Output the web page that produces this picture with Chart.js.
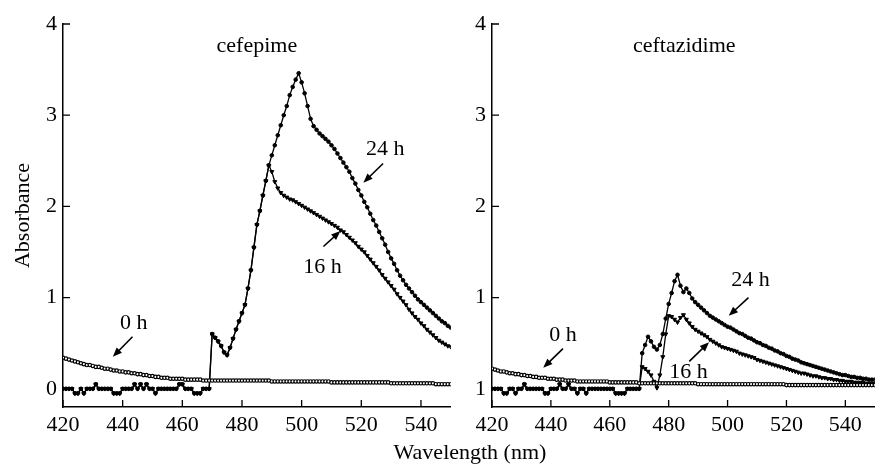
<!DOCTYPE html>
<html>
<head>
<meta charset="utf-8">
<script src="https://cdn.jsdelivr.net/npm/chart.js@4.4.1/dist/chart.umd.min.js"></script>
<style>
  body { margin: 0; background: #fff; }
  #wrap { position: relative; width: 880px; height: 465px; font-family: "Liberation Serif", serif; }
  #leftBox { position: absolute; left: 0; top: 0; }
  #rightBox { position: absolute; left: 430px; top: 0; }
  #xTitle { position: absolute; left: 0; width: 940px; top: 438px; line-height: 28px; text-align: center; font-size: 22px; color: #000; }
</style>
</head>
<body>
<div id="wrap">
  <canvas id="leftBox" width="456" height="465"></canvas>
  <canvas id="rightBox" width="450" height="465"></canvas>
  <div id="xTitle">Wavelength (nm)</div>
</div>
<script>
// wavelength grid (nm)
const wavelengths = [
  420, 421, 422, 423, 424, 425, 426, 427, 428, 429,
  430, 431, 432, 433, 434, 435, 436, 437, 438, 439,
  440, 441, 442, 443, 444, 445, 446, 447, 448, 449,
  450, 451, 452, 453, 454, 455, 456, 457, 458, 459,
  460, 461, 462, 463, 464, 465, 466, 467, 468, 469,
  470, 471, 472, 473, 474, 475, 476, 477, 478, 479,
  480, 481, 482, 483, 484, 485, 486, 487, 488, 489,
  490, 491, 492, 493, 494, 495, 496, 497, 498, 499,
  500, 501, 502, 503, 504, 505, 506, 507, 508, 509,
  510, 511, 512, 513, 514, 515, 516, 517, 518, 519,
  520, 521, 522, 523, 524, 525, 526, 527, 528, 529,
  530, 531, 532, 533, 534, 535, 536, 537, 538, 539,
  540, 541, 542, 543, 544, 545, 546, 547, 548, 549,
  550
];

const xTicks = [420, 440, 460, 480, 500, 520, 540];
const yTicks = [0, 1, 2, 3, 4];
const leftYLabels = ['0', '1', '2', '3', '4'];
const rightYLabels = ['1', '1', '2', '3', '4'];

// cefepime: noisy blank 420-469, then 470-550
const cefepimeNoise = [
  0, 0, 0, 0, -0.05, -0.05, 0, -0.05, 0, 0,
  0, 0.05, 0, 0, 0, 0, 0, -0.05, -0.05, -0.05,
  0, 0, 0, 0, 0.05, 0, 0.05, 0, 0.05, 0,
  0, -0.05, 0, 0, 0, 0, 0, 0, 0, 0.05,
  0.05, 0, 0, 0, -0.05, -0.05, -0.05, 0, 0, 0
];
const cefepime24h = [
  0.6, 0.56, 0.52, 0.47, 0.4, 0.37, 0.45, 0.55, 0.65, 0.74,
  0.83, 0.92, 1.1, 1.3, 1.55, 1.8, 1.95, 2.12, 2.28, 2.45,
  2.56, 2.67, 2.78, 2.89, 3.0, 3.1, 3.22, 3.31, 3.39, 3.46,
  3.36, 3.24, 3.1, 2.96, 2.88, 2.84, 2.8, 2.77, 2.74, 2.71,
  2.67, 2.63, 2.58, 2.53, 2.48, 2.43, 2.38, 2.31, 2.25, 2.18,
  2.12, 2.05, 1.99, 1.92, 1.85, 1.79, 1.72, 1.65, 1.58, 1.5,
  1.43, 1.37, 1.3, 1.24, 1.19, 1.14, 1.1, 1.06, 1.02, 0.98,
  0.95, 0.92, 0.89, 0.86, 0.83, 0.8, 0.77, 0.74, 0.72, 0.69,
  0.67
];
const cefepime16h = [
  0.6, 0.56, 0.52, 0.47, 0.4, 0.37, 0.45, 0.55, 0.65, 0.74,
  0.83, 0.92, 1.1, 1.3, 1.55, 1.8, 1.95, 2.12, 2.28, 2.45,
  2.38, 2.27, 2.2, 2.15, 2.12, 2.1, 2.08, 2.07, 2.05, 2.03,
  2.01, 1.99, 1.97, 1.95, 1.93, 1.91, 1.89, 1.87, 1.85, 1.83,
  1.81, 1.79, 1.77, 1.74, 1.72, 1.69, 1.66, 1.63, 1.6, 1.56,
  1.53, 1.5, 1.46, 1.42, 1.38, 1.34, 1.3, 1.25, 1.21, 1.17,
  1.13, 1.09, 1.04, 1.0, 0.96, 0.92, 0.87, 0.83, 0.79, 0.76,
  0.72, 0.69, 0.65, 0.62, 0.59, 0.56, 0.53, 0.51, 0.49, 0.47,
  0.46
];
const cefepime0h = [
  0.34, 0.33, 0.32, 0.31, 0.30, 0.29, 0.28, 0.27, 0.26, 0.26,
  0.25, 0.24, 0.24, 0.23, 0.22, 0.22, 0.21, 0.20, 0.20, 0.19,
  0.19, 0.18, 0.18, 0.17, 0.17, 0.16, 0.16, 0.15, 0.15, 0.14,
  0.14, 0.13, 0.13, 0.12, 0.12, 0.12, 0.11, 0.11, 0.11, 0.11,
  0.11, 0.10, 0.10, 0.10, 0.10, 0.10, 0.10, 0.09, 0.09, 0.09,
  0.09, 0.09, 0.09, 0.09, 0.09, 0.09, 0.09, 0.09, 0.09, 0.09,
  0.09, 0.09, 0.09, 0.09, 0.09, 0.09, 0.09, 0.09, 0.09, 0.09,
  0.08, 0.08, 0.08, 0.08, 0.08, 0.08, 0.08, 0.08, 0.08, 0.08,
  0.08, 0.08, 0.08, 0.08, 0.08, 0.08, 0.08, 0.08, 0.08, 0.08,
  0.07, 0.07, 0.07, 0.07, 0.07, 0.07, 0.07, 0.07, 0.07, 0.07,
  0.07, 0.07, 0.07, 0.07, 0.07, 0.07, 0.07, 0.07, 0.07, 0.07,
  0.06, 0.06, 0.06, 0.06, 0.06, 0.06, 0.06, 0.06, 0.06, 0.06,
  0.06, 0.06, 0.06, 0.06, 0.06, 0.05, 0.05, 0.05, 0.05, 0.05,
  0.05
];

// ceftazidime: noisy blank 420-470, then 471-550
const ceftazNoise = [
  0, 0, 0, 0, -0.05, -0.05, 0, 0, -0.05, 0,
  0, 0.05, 0, 0, 0, 0, 0, 0, -0.05, -0.05,
  0, 0, 0, 0.05, 0, 0, 0.05, 0, 0, -0.05,
  0, 0, -0.05, 0, 0, 0, 0, 0, 0, 0,
  0, 0, -0.05, -0.05, -0.05, -0.05, 0, 0, 0, 0,
  0
];
const ceftaz24h = [
  0.39, 0.48, 0.57, 0.52, 0.46, 0.43, 0.48, 0.6, 0.77,
  0.93, 1.05, 1.18, 1.25, 1.13, 1.06, 1.1, 1.05, 0.99, 0.95,
  0.92, 0.89, 0.86, 0.83, 0.8, 0.78, 0.76, 0.74, 0.72, 0.7,
  0.68, 0.67, 0.65, 0.63, 0.61, 0.6, 0.58, 0.56, 0.55, 0.53,
  0.51, 0.5, 0.48, 0.47, 0.45, 0.44, 0.42, 0.41, 0.39, 0.38,
  0.36, 0.35, 0.33, 0.32, 0.31, 0.29, 0.28, 0.27, 0.26, 0.25,
  0.24, 0.23, 0.22, 0.21, 0.2, 0.19, 0.18, 0.17, 0.16, 0.15,
  0.15, 0.14, 0.13, 0.13, 0.12, 0.12, 0.11, 0.11, 0.1, 0.1,
  0.1
];
const ceftaz16h = [
  0.24, 0.22, 0.19, 0.15, 0.08, 0.01, 0.15, 0.35, 0.6,
  0.8, 0.79, 0.76, 0.73, 0.78, 0.81, 0.76, 0.72, 0.68, 0.65,
  0.63, 0.61, 0.59, 0.57, 0.54, 0.52, 0.5, 0.48, 0.46, 0.45,
  0.44, 0.43, 0.42, 0.41, 0.39, 0.38, 0.37, 0.36, 0.35, 0.34,
  0.32, 0.31, 0.3, 0.29, 0.28, 0.27, 0.26, 0.25, 0.24, 0.23,
  0.22, 0.21, 0.2, 0.19, 0.18, 0.17, 0.17, 0.16, 0.15, 0.14,
  0.14, 0.13, 0.12, 0.12, 0.11, 0.11, 0.1, 0.1, 0.09, 0.09,
  0.08, 0.08, 0.08, 0.07, 0.07, 0.07, 0.07, 0.06, 0.06, 0.06,
  0.06
];
const ceftaz0h = [
  0.22, 0.21, 0.20, 0.19, 0.19, 0.18, 0.17, 0.17, 0.16, 0.16,
  0.15, 0.15, 0.14, 0.14, 0.13, 0.13, 0.12, 0.12, 0.12, 0.11,
  0.11, 0.11, 0.10, 0.10, 0.10, 0.09, 0.09, 0.09, 0.09, 0.08,
  0.08, 0.08, 0.08, 0.08, 0.08, 0.08, 0.08, 0.08, 0.08, 0.08,
  0.07, 0.07, 0.07, 0.07, 0.07, 0.07, 0.07, 0.07, 0.07, 0.07,
  0.06, 0.06, 0.06, 0.06, 0.06, 0.06, 0.06, 0.06, 0.06, 0.06,
  0.06, 0.06, 0.06, 0.06, 0.06, 0.06, 0.06, 0.06, 0.06, 0.06,
  0.05, 0.05, 0.05, 0.05, 0.05, 0.05, 0.05, 0.05, 0.05, 0.05,
  0.05, 0.05, 0.05, 0.05, 0.05, 0.05, 0.05, 0.05, 0.05, 0.05,
  0.05, 0.05, 0.05, 0.05, 0.05, 0.05, 0.05, 0.05, 0.05, 0.05,
  0.04, 0.04, 0.04, 0.04, 0.04, 0.04, 0.04, 0.04, 0.04, 0.04,
  0.04, 0.04, 0.04, 0.04, 0.04, 0.04, 0.04, 0.04, 0.04, 0.04,
  0.04, 0.04, 0.04, 0.04, 0.04, 0.04, 0.04, 0.04, 0.04, 0.04,
  0.04
];

// labels and arrows, in data units (wavelength, absorbance)
const leftNotes = [
  { text: 'cefepime', x: 485, y: 3.76 },
  { text: '24 h', x: 528, y: 2.63, from: [527.3, 2.47], to: [520.7, 2.26] },
  { text: '16 h', x: 507, y: 1.33, from: [507.3, 1.56], to: [513, 1.73] },
  { text: '0 h', x: 443.7, y: 0.72, from: [443.3, 0.57], to: [436.7, 0.35] }
];
const rightNotes = [
  { text: 'ceftazidime', x: 485.3, y: 3.76 },
  { text: '24 h', x: 507.8, y: 1.19, from: [507.1, 1.0], to: [500.4, 0.8] },
  { text: '16 h', x: 486.7, y: 0.18, from: [487, 0.3], to: [493.7, 0.51] },
  { text: '0 h', x: 444.1, y: 0.59, from: [444.1, 0.44], to: [437.4, 0.23] }
];

const FONT = '"Liberation Serif", "Times New Roman", serif';

function toPoints(values) {
  return values.map((v, i) => ({ x: wavelengths[i], y: v }));
}

// inward tick marks on both axes
const inwardTicks = {
  id: 'inwardTicks',
  afterDraw(chart) {
    const { ctx, chartArea, scales } = chart;
    ctx.save();
    ctx.strokeStyle = '#000';
    ctx.lineWidth = 1.3;
    ctx.beginPath();
    scales.x.ticks.forEach(t => {
      const px = scales.x.getPixelForValue(t.value);
      ctx.moveTo(px, chartArea.bottom);
      ctx.lineTo(px, chartArea.bottom - 7);
    });
    scales.y.ticks.forEach(t => {
      const py = scales.y.getPixelForValue(t.value);
      ctx.moveTo(chartArea.left, py);
      ctx.lineTo(chartArea.left + 7, py);
    });
    ctx.stroke();
    ctx.restore();
  }
};

// text labels with arrows
const notesPlugin = {
  id: 'notes',
  afterDraw(chart, args, opts) {
    const { ctx, scales: { x, y } } = chart;
    ctx.save();
    ctx.fillStyle = '#000';
    ctx.strokeStyle = '#000';
    ctx.font = '22px ' + FONT;
    ctx.textAlign = 'center';
    ctx.textBaseline = 'middle';
    opts.items.forEach(n => {
      ctx.fillText(n.text, x.getPixelForValue(n.x), y.getPixelForValue(n.y));
      if (!n.from) return;
      const x1 = x.getPixelForValue(n.from[0]), y1 = y.getPixelForValue(n.from[1]);
      const x2 = x.getPixelForValue(n.to[0]), y2 = y.getPixelForValue(n.to[1]);
      const ang = Math.atan2(y2 - y1, x2 - x1);
      ctx.lineWidth = 1.6;
      ctx.beginPath();
      ctx.moveTo(x1, y1);
      ctx.lineTo(x2 - 6 * Math.cos(ang), y2 - 6 * Math.sin(ang));
      ctx.stroke();
      ctx.beginPath();
      ctx.moveTo(x2, y2);
      ctx.lineTo(x2 - 10 * Math.cos(ang - 0.38), y2 - 10 * Math.sin(ang - 0.38));
      ctx.lineTo(x2 - 10 * Math.cos(ang + 0.38), y2 - 10 * Math.sin(ang + 0.38));
      ctx.closePath();
      ctx.fill();
    });
    ctx.restore();
  }
};

function lineSet(values, style) {
  return Object.assign({
    data: toPoints(values),
    borderColor: '#000',
    borderWidth: 1.3,
    pointBorderColor: '#000',
    pointBorderWidth: 1,
    tension: 0,
    fill: false
  }, style);
}

const open0h = { pointStyle: 'circle', pointRadius: 1.7, pointBorderWidth: 1.2, pointBackgroundColor: '#fff' };
const dot24h = { pointStyle: 'circle', pointRadius: 1.8, pointBackgroundColor: '#000' };
const tri16h = { pointStyle: 'triangle', pointRadius: 2.3, pointRotation: 180, pointBackgroundColor: '#000' };

function makeChart(id, datasets, yLabels, notes, yTitle, yWidth, padRight) {
  return new Chart(document.getElementById(id), {
    type: 'line',
    data: { datasets: datasets },
    plugins: [inwardTicks, notesPlugin],
    options: {
      responsive: false,
      animation: false,
      layout: { padding: { top: 24, right: padRight, bottom: 0, left: 0 } },
      plugins: {
        legend: { display: false },
        tooltip: { enabled: false },
        notes: { items: notes }
      },
      scales: {
        x: {
          type: 'linear',
          min: 420,
          max: 550,
          afterBuildTicks: s => { s.ticks = xTicks.map(v => ({ value: v })); },
          afterFit: s => { s.height = 58; },
          grid: { display: false, drawTicks: false },
          border: { display: true, color: '#000', width: 1.5 },
          ticks: { color: '#000', padding: 5, autoSkip: false, maxRotation: 0, font: { family: FONT, size: 22 } }
        },
        y: {
          type: 'linear',
          min: -0.2,
          max: 4,
          afterBuildTicks: s => { s.ticks = yTicks.map(v => ({ value: v })); },
          afterFit: s => { s.width = yWidth; },
          grid: { display: false, drawTicks: false },
          border: { display: true, color: '#000', width: 1.5 },
          ticks: {
            color: '#000',
            padding: 6,
            font: { family: FONT, size: 22 },
            callback: (v, i) => yLabels[i]
          },
          title: {
            display: !!yTitle,
            text: yTitle || '',
            color: '#000',
            padding: { top: 10, bottom: 0 },
            font: { family: FONT, size: 22 }
          }
        }
      }
    }
  });
}

makeChart('leftBox', [
  lineSet(cefepime0h, open0h),
  lineSet(cefepimeNoise.concat(cefepime16h), tri16h),
  lineSet(cefepimeNoise.concat(cefepime24h), dot24h)
], leftYLabels, leftNotes, 'Absorbance', 63, 3);

makeChart('rightBox', [
  lineSet(ceftaz0h, open0h),
  lineSet(ceftazNoise.concat(ceftaz16h), tri16h),
  lineSet(ceftazNoise.concat(ceftaz24h), dot24h)
], rightYLabels, rightNotes, '', 62, 0);
</script>
</body>
</html>
